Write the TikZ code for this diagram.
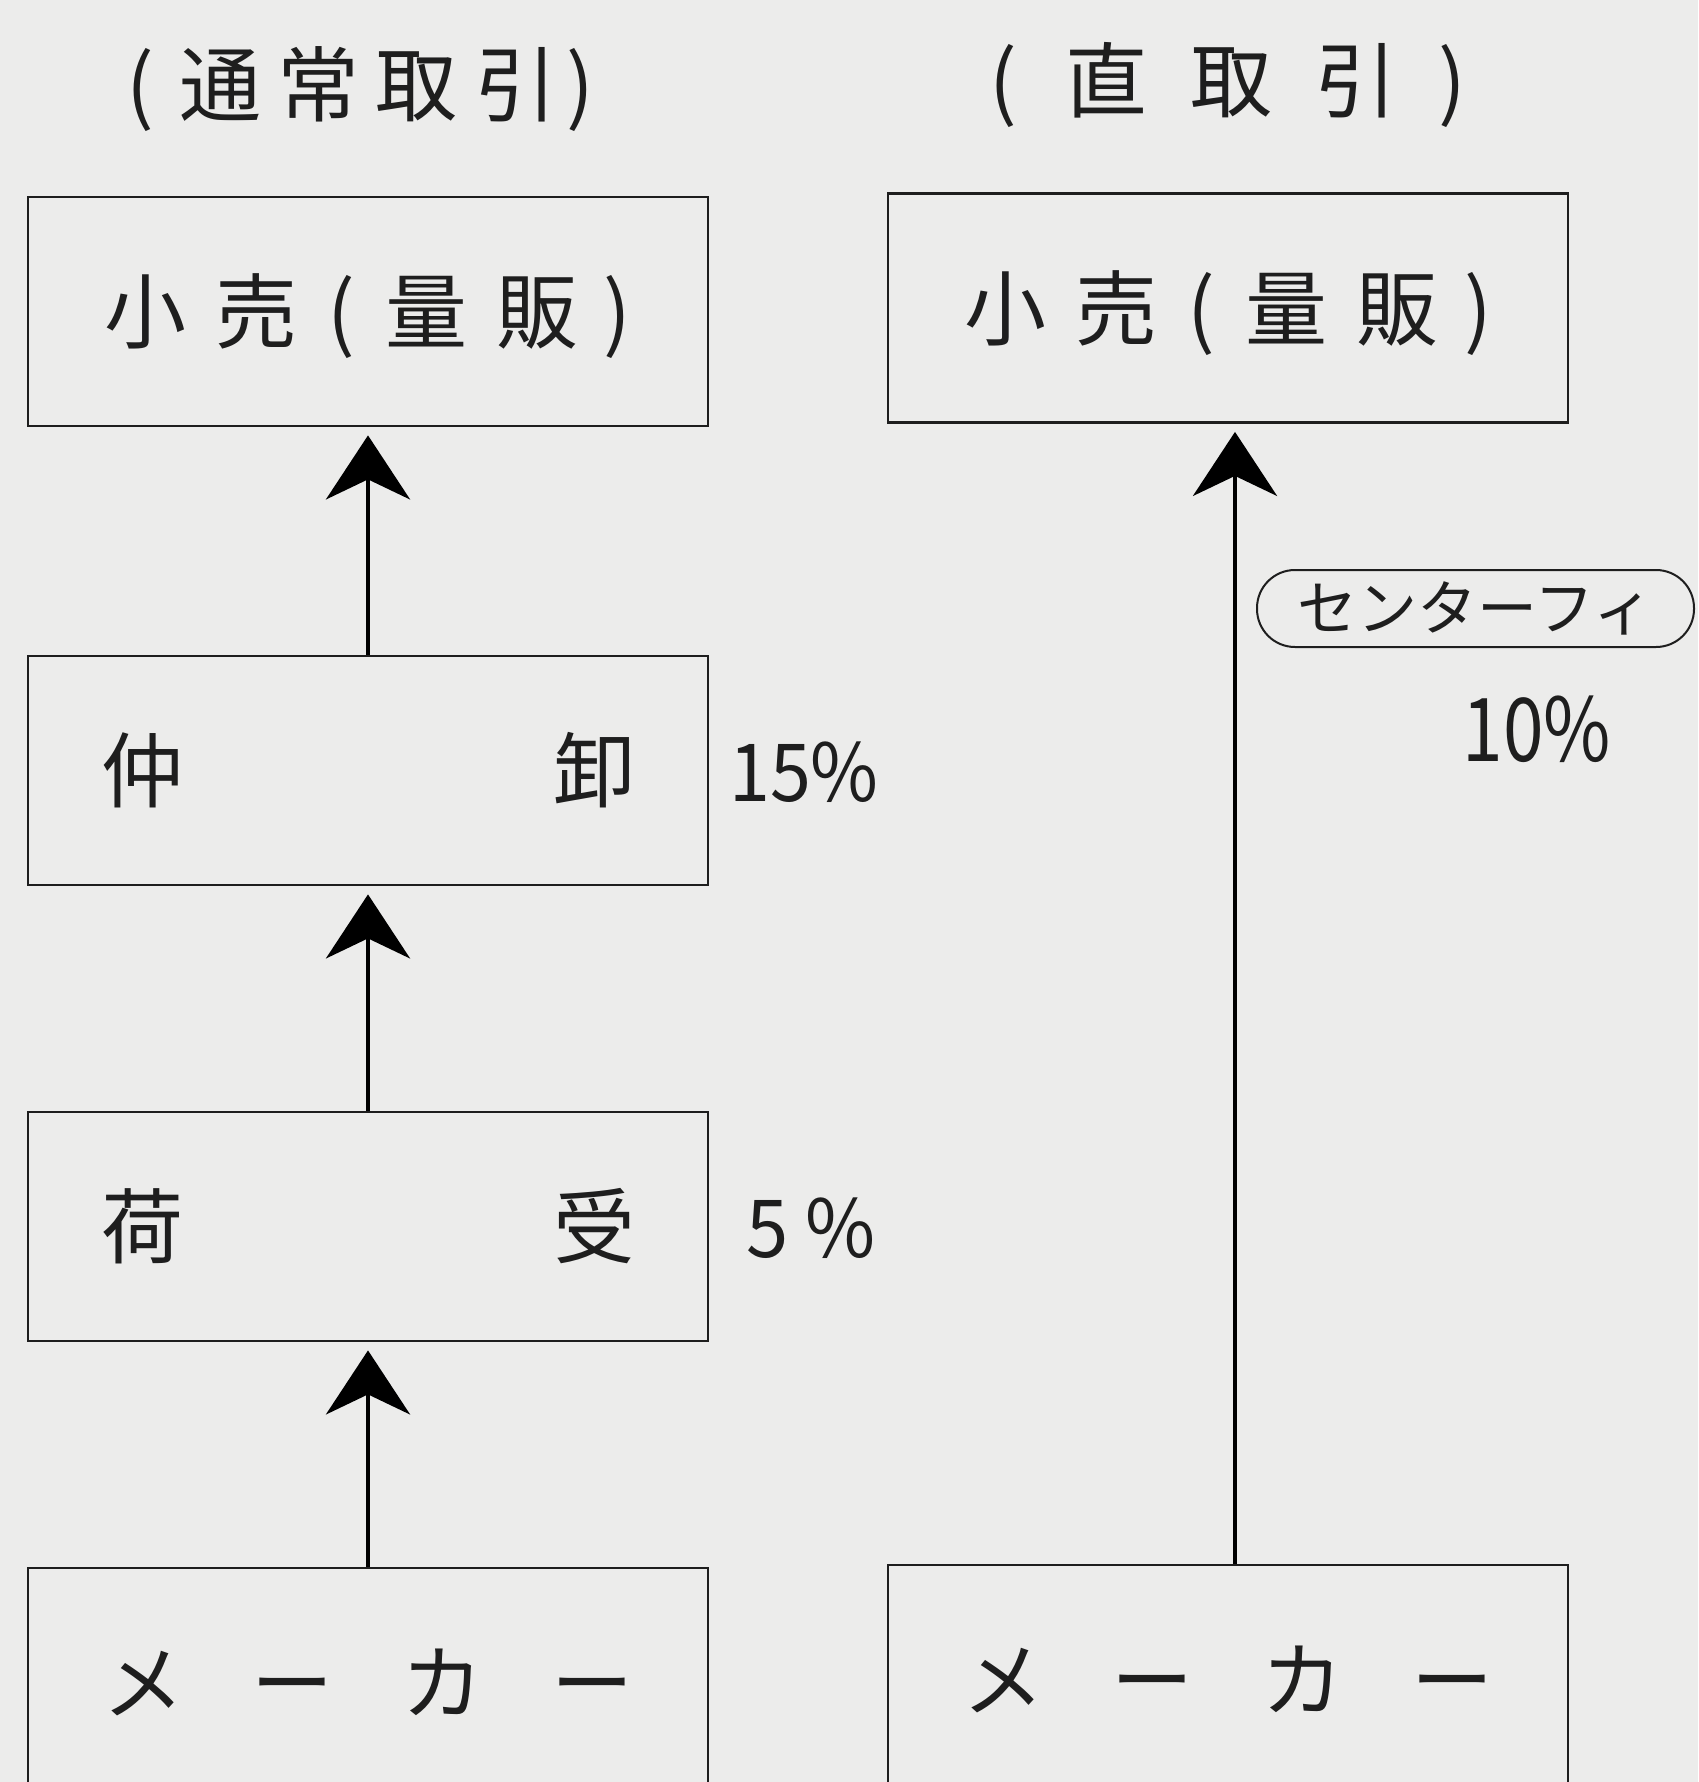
\documentclass[tikz,border=0pt]{standalone}
\usepackage{fontspec}
\usepackage{graphicx}
\usetikzlibrary{arrows.meta}
\newfontfamily\jp{Noto Sans CJK JP}
\definecolor{bg}{RGB}{236,236,235}
\definecolor{ink}{RGB}{30,30,30}
\begin{document}
\begin{tikzpicture}[x=0.5pt,y=-0.5pt,
  box/.style={draw=ink, line width=1.4pt, fill=bg, rectangle, minimum width=340pt, minimum height=114.5pt, inner sep=0pt, font=\jp\fontsize{41pt}{41pt}\selectfont, text=ink},
  arr/.style={draw=black, line width=2.2pt, -{Stealth[length=32pt,width=42pt,inset=10pt]}, shorten >=4pt},
  lbl/.style={inner sep=0pt, text=ink},
  big/.style={font=\jp\fontsize{41pt}{41pt}\selectfont},
]
\useasboundingbox (0,0) rectangle (1698,1782);
\fill[bg] (0,0) rectangle (1698,1782);
\clip (0,0) rectangle (1698,1782);

% titles
\node[lbl, big, anchor=west] (t1) at (126,84) {\smash{(}\hspace{12.5pt}通\hspace{8pt}常\hspace{8pt}取\hspace{9pt}引\hspace{4.5pt}\smash{)}};
\node[lbl, big, anchor=west] (t2) at (989,80) {\smash{(}\hspace{24pt}直\hspace{21.5pt}取\hspace{21.5pt}引\hspace{20.5pt}\smash{)}};

% left column
\node[box] (b1) at (368,311.5) {\raisebox{-5pt}{小\hspace{14.5pt}売\hspace{15pt}\smash{(}\hspace{15.5pt}量\hspace{14pt}販\hspace{13pt}\smash{)}}\hspace{10pt}};
\node[box] (b2) at (368,770.5) {仲\hspace{185pt}卸};
\node[box] (b3) at (368,1226.5) {\raisebox{-2pt}{荷\hspace{185pt}受}};
\node[box] (b4) at (368,1682.5) {メ\hspace{34pt}ー\hspace{34pt}カ\hspace{34pt}ー};

% right column
\node[box] (r1) at (1228,308) {\raisebox{-5pt}{小\hspace{14.5pt}売\hspace{15pt}\smash{(}\hspace{15.5pt}量\hspace{14pt}販\hspace{13pt}\smash{)}}\hspace{10pt}};
\node[box] (r4) at (1228,1679.5) {メ\hspace{34pt}ー\hspace{34pt}カ\hspace{34pt}ー};

% arrows
\draw[arr] (b4.north) -- (b3.south);
\draw[arr] (b3.north) -- (b2.south);
\draw[arr] (b2.north) -- (b1.south);
\draw[arr] ([xshift=3.5pt]r4.north) -- ([xshift=3.5pt]r1.south);

% labels
\node[lbl, font=\jp\fontsize{40pt}{40pt}\selectfont] (p15) at (804,772) {\scalebox{0.92}[1]{15\%}};
\node[lbl, font=\jp\fontsize{40pt}{40pt}\selectfont] (p5) at (811,1228) {\scalebox{0.95}[1]{5\hspace{9pt}\%}};
\node[draw=ink, line width=1pt, rounded corners=19pt, minimum width=218.5pt, minimum height=38.5pt, inner sep=0pt, font=\jp\fontsize{30pt}{30pt}\selectfont, text=ink] (fee) at (1475.5,608.5) {センターフィ};
\node[lbl, font=\jp\fontsize{44pt}{44pt}\selectfont] (p10) at (1537,729) {\scalebox{0.83}[1]{10\%}};
\end{tikzpicture}
\end{document}
